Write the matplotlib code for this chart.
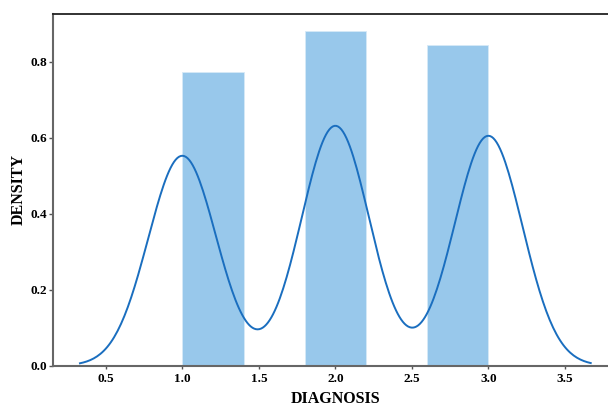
import matplotlib
matplotlib.use("Agg")
import matplotlib.pyplot as plt
import numpy as np

# diagnosis classes and how many records fall in each
diagnosis_classes = [1, 2, 3]
class_counts = [189, 216, 207]

hist_bins = np.linspace(1.0, 3.0, 6)

bar_color = '#98c8eb'
line_color = '#1a6ebf'

plt.rcParams['font.family'] = ['Liberation Serif', 'DejaVu Serif']
plt.rcParams['font.weight'] = 'bold'

values = np.repeat(diagnosis_classes, class_counts).astype(float)

# gaussian kde, scott bandwidth
n = len(values)
bw = values.std(ddof=1) * n ** (-1 / 5)
grid = np.linspace(values.min() - 3 * bw, values.max() + 3 * bw, 300)
density = np.exp(-0.5 * ((grid[:, None] - values[None, :]) / bw) ** 2).sum(axis=1)
density /= n * bw * np.sqrt(2 * np.pi)

fig = plt.figure(figsize=(6.08, 4.07), dpi=100)
ax = fig.add_axes([0.0872, 0.1017, 0.93, 0.8639])

ax.hist(values, bins=hist_bins, density=True, color=bar_color,
        edgecolor='#d6e9f7', linewidth=0.6)
ax.plot(grid, density, color=line_color, linewidth=1.4)

ax.set_xlim(0.155, 3.85)
ax.set_ylim(0, 0.926)
ax.set_xticks([0.5, 1.0, 1.5, 2.0, 2.5, 3.0, 3.5])
ax.set_yticks([0.0, 0.2, 0.4, 0.6, 0.8])

ax.set_xlabel('DIAGNOSIS', fontsize=11.5, fontweight='bold', labelpad=4.5)
ax.set_ylabel('DENSITY', fontsize=11.5, fontweight='bold', labelpad=3)

for lbl in ax.get_xticklabels() + ax.get_yticklabels():
    lbl.set_fontweight('bold')
ax.tick_params(axis='both', labelsize=9.5, colors='black')
ax.tick_params(axis='y', length=3, width=1, color='#555555', pad=1)
ax.tick_params(axis='x', length=2, width=1, color='#555555', pad=3)

ax.spines['left'].set_color('#666666')
ax.spines['bottom'].set_color('#666666')
ax.spines['left'].set_linewidth(1.5)
ax.spines['bottom'].set_linewidth(1.5)
ax.spines['top'].set_color('#222222')
ax.spines['top'].set_linewidth(1.3)
ax.spines['right'].set_visible(False)

fig.savefig('out.png', dpi=100)
